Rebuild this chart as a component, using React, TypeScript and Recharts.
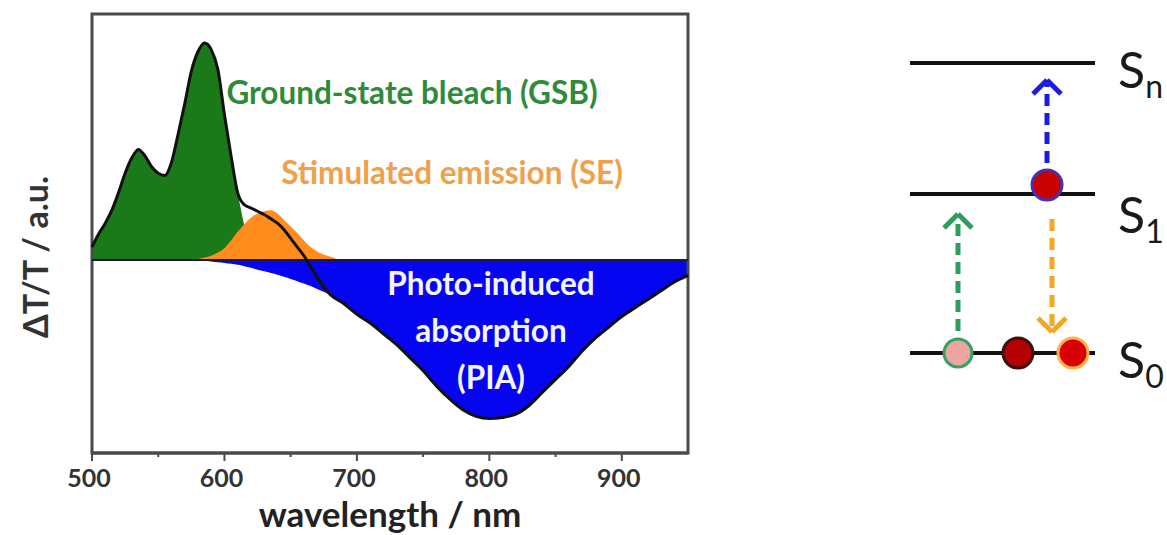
import React from 'react';
import {
  ComposedChart,
  Area,
  Line,
  XAxis,
  YAxis,
  ReferenceLine,
  ReferenceArea,
  Scatter,
  Label,
} from 'recharts';

// ---- spectrum (GSB peak normalised to 1) ----
const wavelengths = [
  500, 505, 510, 515, 520, 525, 530, 535, 540, 545, 550, 555, 560, 565, 570, 575,
  580, 585, 590, 595, 600, 605, 610, 615, 620, 625, 630, 635, 640, 645, 650, 655,
  660, 665, 670, 680, 690, 700, 710, 720, 730, 740, 750, 760, 770, 780, 790, 800,
  810, 820, 830, 840, 850, 860, 870, 880, 890, 900, 910, 920, 930, 940, 950,
];

const gsb = [
  0.06, 0.12, 0.17, 0.23, 0.31, 0.4, 0.47, 0.51, 0.48, 0.43, 0.4, 0.39, 0.45, 0.58, 0.72, 0.87,
  0.96, 1.0, 0.97, 0.88, 0.67, 0.48, 0.31, 0.16, 0.05, 0.01, 0, 0, 0, 0, 0, 0,
  0, 0, 0, 0, 0, 0, 0, 0, 0, 0, 0, 0, 0, 0, 0, 0,
  0, 0, 0, 0, 0, 0, 0, 0, 0, 0, 0, 0, 0, 0, 0,
];

const se = [
  0, 0, 0, 0, 0, 0, 0, 0, 0, 0, 0, 0, 0, 0, 0, 0,
  0.005, 0.012, 0.02, 0.035, 0.055, 0.09, 0.13, 0.165, 0.195, 0.215, 0.225, 0.23, 0.215, 0.185, 0.155, 0.125,
  0.09, 0.06, 0.04, 0.015, 0, 0, 0, 0, 0, 0, 0, 0, 0, 0, 0, 0,
  0, 0, 0, 0, 0, 0, 0, 0, 0, 0, 0, 0, 0, 0, 0,
];

const pia = [
  0, 0, 0, 0, 0, 0, 0, 0, 0, 0, 0, 0, 0, 0, 0, 0,
  0, -0.003, -0.006, -0.01, -0.013, -0.017, -0.022, -0.028, -0.035, -0.045, -0.052, -0.06, -0.068, -0.077, -0.087, -0.097,
  -0.108, -0.12, -0.133, -0.16, -0.2, -0.25, -0.29, -0.34, -0.39, -0.45, -0.51, -0.58, -0.64, -0.69, -0.72, -0.73,
  -0.725, -0.71, -0.67, -0.61, -0.55, -0.49, -0.42, -0.36, -0.31, -0.26, -0.22, -0.18, -0.14, -0.1, -0.07,
];

const total = [
  0.06, 0.12, 0.17, 0.23, 0.31, 0.4, 0.47, 0.51, 0.48, 0.43, 0.4, 0.39, 0.45, 0.58, 0.72, 0.87,
  0.96, 1.0, 0.97, 0.88, 0.67, 0.48, 0.31, 0.255, 0.24, 0.225, 0.21, 0.19, 0.17, 0.14, 0.1, 0.06,
  0.02, -0.03, -0.08, -0.16, -0.2, -0.25, -0.29, -0.34, -0.39, -0.45, -0.51, -0.58, -0.64, -0.69, -0.72, -0.73,
  -0.725, -0.71, -0.67, -0.61, -0.55, -0.49, -0.42, -0.36, -0.31, -0.26, -0.22, -0.18, -0.14, -0.1, -0.07,
];

const xTicks = [500, 550, 600, 650, 700, 750, 800, 850, 900];
const yDomain = [-0.889, 1.134];

// ---- energy level scheme (page pixels) ----
const levels = [
  { sub: 'n', e: 63, labelE: 70 },
  { sub: '1', e: 194, labelE: 215 },
  { sub: '0', e: 353, labelE: 360 },
];
const levelSpan = [910, 1095];
const transitions = [
  { color: '#1c1ce0', x: 1047, from: 163, to: 80 },
  { color: '#2e9e5c', x: 958, from: 331, to: 214 },
  { color: '#f5a623', x: 1052, from: 219, to: 332 },
];
const electrons = [
  { x: 958, y: 353, r: 14, fill: '#eba5a5', stroke: '#3a9f5f' },
  { x: 1018, y: 353, r: 15, fill: '#b30000', stroke: '#3b1010' },
  { x: 1073, y: 353, r: 15, fill: '#d80000', stroke: '#ffb347' },
  { x: 1047, y: 185, r: 15, fill: '#c80000', stroke: '#4a2fb0' },
];

const spectrum = wavelengths.map((w, i) => ({
  w,
  gsb: gsb[i],
  se: se[i],
  pia: pia[i],
  total: total[i],
}));

const FONT = 'Lato, "Open Sans", sans-serif';

const renderTick = (props: any) => {
  const { x, y, payload } = props;
  const major = payload.value % 100 === 0;
  return (
    <g>
      <line x1={x} x2={x} y1={y} y2={y + (major ? 8 : 4)} stroke="#4a4a4a" strokeWidth={2} />
      {major && (
        <text x={x - 3} y={y + 34} textAnchor="middle" fill="#333" fontSize={25} fontWeight={700} fontFamily={FONT}>
          {payload.value}
        </text>
      )}
    </g>
  );
};

const Note = ({ x, y, color, size = 31.5, children }: any) => (
  <div
    style={{
      position: 'absolute',
      left: x,
      top: y,
      transform: 'translate(-50%, -50%)',
      color,
      fontSize: size,
      fontWeight: 700,
      lineHeight: 1,
      whiteSpace: 'nowrap',
      textAlign: 'center',
    }}
  >
    {children}
  </div>
);

export default function App() {
  return (
    <div
      style={{
        position: 'absolute',
        left: 0,
        top: 0,
        width: 1167,
        height: 535,
        background: '#fff',
        overflow: 'hidden',
        fontFamily: FONT,
      }}
    >
      <div style={{ position: 'absolute', left: 0, top: 0 }}>
        <ComposedChart width={700} height={535} data={spectrum} margin={{ top: 14, right: 12, bottom: 0, left: 92 }}>
          <XAxis
            dataKey="w"
            type="number"
            domain={[500, 950]}
            ticks={xTicks}
            interval={0}
            tickSize={0}
            tickMargin={0}
            tickLine={false}
            tick={renderTick}
            height={82}
            axisLine={{ stroke: '#4a4a4a', strokeWidth: 3 }}
          >
            <Label
              value="wavelength / nm"
              position="insideBottom"
              offset={8}
              fill="#222"
              fontSize={35}
              fontWeight={700}
              fontFamily={FONT}
            />
          </XAxis>
          <YAxis hide type="number" domain={yDomain} />
          <Area dataKey="gsb" type="monotone" baseValue={0} fill="#1a7a1a" fillOpacity={1} stroke="none" isAnimationActive={false} />
          <Area dataKey="se" type="monotone" baseValue={0} fill="#ff8c1c" fillOpacity={1} stroke="none" isAnimationActive={false} />
          <Area dataKey="pia" type="monotone" baseValue={0} fill="#0505f0" fillOpacity={1} stroke="none" isAnimationActive={false} />
          <ReferenceLine y={0} stroke="#1a1a3a" strokeWidth={2} />
          <Line dataKey="total" type="monotone" stroke="#111" strokeWidth={3} dot={false} isAnimationActive={false} />
          <ReferenceArea x1={500} x2={950} y1={yDomain[0]} y2={yDomain[1]} fill="none" stroke="#4a4a4a" strokeWidth={3} />
        </ComposedChart>
      </div>

      <div style={{ position: 'absolute', left: 880, top: 0 }}>
        <ComposedChart width={287} height={535} margin={{ top: 0, right: 0, bottom: 0, left: 0 }}>
          <XAxis hide type="number" dataKey="x" domain={[880, 1167]} />
          <YAxis hide type="number" dataKey="y" domain={[0, 535]} reversed />
          {levels.map((l) => (
            <ReferenceLine
              key={l.sub}
              segment={[
                { x: levelSpan[0], y: l.e },
                { x: levelSpan[1], y: l.e },
              ]}
              stroke="#111"
              strokeWidth={4}
            />
          ))}
          {transitions.map((t, i) => {
            const dir = t.from > t.to ? 1 : -1;
            return (
              <React.Fragment key={i}>
                <ReferenceLine
                  segment={[
                    { x: t.x, y: t.from },
                    { x: t.x, y: t.to + dir * 4 },
                  ]}
                  stroke={t.color}
                  strokeWidth={5}
                  strokeDasharray="12 7"
                />
                <ReferenceLine
                  segment={[
                    { x: t.x - 14, y: t.to + dir * 14 },
                    { x: t.x, y: t.to },
                  ]}
                  stroke={t.color}
                  strokeWidth={5}
                />
                <ReferenceLine
                  segment={[
                    { x: t.x, y: t.to },
                    { x: t.x + 14, y: t.to + dir * 14 },
                  ]}
                  stroke={t.color}
                  strokeWidth={5}
                />
              </React.Fragment>
            );
          })}
          <Scatter
            data={electrons}
            dataKey="y"
            isAnimationActive={false}
            shape={(p: any) => (
              <circle cx={p.cx} cy={p.cy} r={p.payload.r} fill={p.payload.fill} stroke={p.payload.stroke} strokeWidth={3} />
            )}
          />
        </ComposedChart>
      </div>

      {/* axis title */}
      <div
        style={{
          position: 'absolute',
          left: 35,
          top: 257,
          transform: 'translate(-50%, -50%) rotate(-90deg)',
          fontSize: 34,
          fontWeight: 700,
          color: '#333',
          whiteSpace: 'nowrap',
          lineHeight: 1,
        }}
      >
        ΔT/T / a.u.
      </div>

      {/* band annotations */}
      <Note x={412} y={93} color="#2f8a3a">Ground-state bleach (GSB)</Note>
      <Note x={452} y={173} color="#f0a04b">Stimulated emission (SE)</Note>
      <div
        style={{
          position: 'absolute',
          left: 491,
          top: 260,
          transform: 'translateX(-50%)',
          color: '#f4f4ff',
          fontSize: 31.5,
          fontWeight: 700,
          lineHeight: '47px',
          textAlign: 'center',
          whiteSpace: 'nowrap',
        }}
      >
        Photo-induced
        <br />
        absorption
        <br />
        (PIA)
      </div>

      {/* level labels */}
      {levels.map((l) => (
        <div
          key={l.sub}
          style={{
            position: 'absolute',
            left: 1118,
            top: l.labelE - 26,
            fontSize: 50,
            lineHeight: 1,
            color: '#1a1a1a',
            whiteSpace: 'nowrap',
          }}
        >
          S
          <span style={{ fontSize: 32, position: 'relative', top: 10 }}>{l.sub}</span>
        </div>
      ))}
    </div>
  );
}
